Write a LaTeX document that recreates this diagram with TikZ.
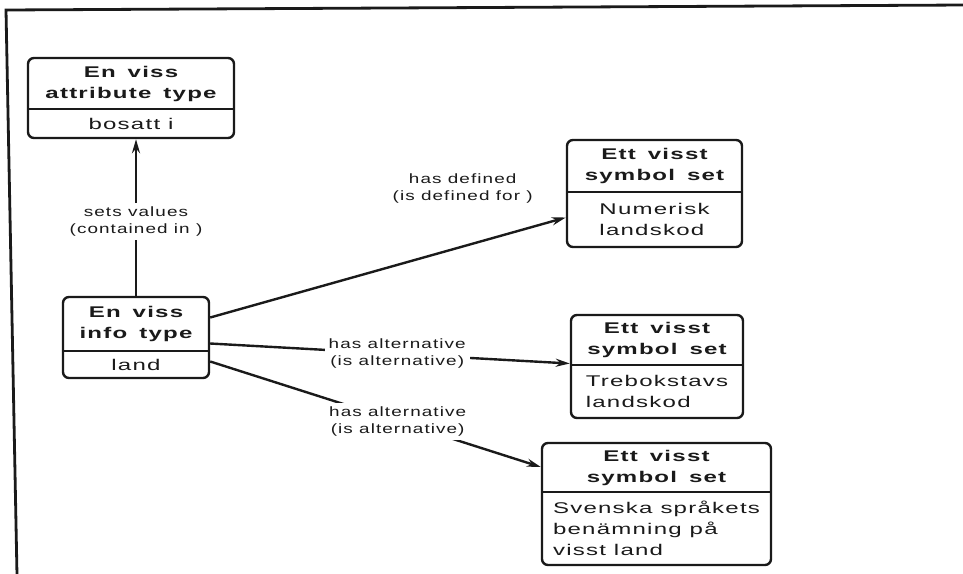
\documentclass[tikz,border=0pt]{standalone}
\usepackage{fontspec}
\setmainfont{Liberation Sans}
\newfontfamily\diagfont[FakeStretch=1.55,LetterSpace=8]{Liberation Sans}
\newfontfamily\labelfont[FakeStretch=1.4,LetterSpace=8]{Liberation Sans}
\usetikzlibrary{arrows.meta,calc}

\definecolor{ink}{HTML}{1A1A1A}
\newcommand\wsp{\hspace{12pt}}

\tikzset{
  boxframe/.style={draw=ink, line width=2.4pt, rounded corners=6pt, inner sep=0pt},
  divider/.style={draw=ink, line width=2.2pt},
  headtext/.style={font=\diagfont\bfseries\fontsize{15.5}{21}\selectfont, align=center, inner sep=0pt, text=ink},
  bodytext/.style={font=\diagfont\fontsize{15.5}{21}\selectfont, align=left, inner sep=0pt, text=ink},
  rel/.style={draw=ink, line width=2.4pt, -{Stealth[length=14pt,width=8pt]}},
  edgelabel/.style={font=\labelfont\fontsize{13.5}{17}\selectfont, align=center, fill=white, inner sep=4pt, text=ink},
}

% class box: name, x1, y1, x2, y2, divider y, heading, body
\newcommand\classbox[8]{%
  \node[boxframe, minimum width={(#4-#2)*1pt}, minimum height={(#5-#3)*1pt}]
    (#1) at ({(#2+#4)/2},{(#3+#5)/2}) {};
  \draw[divider] (#2,#6) -- (#4,#6);
  \node[headtext] (#1-head) at ({(#2+#4)/2},{(#3+#6)/2}) {#7};
  \node[bodytext] (#1-body) at ({(#2+#4)/2},{(#6+#5)/2}) {#8};
}

\begin{document}
\begin{tikzpicture}[x=1pt, y=-1pt]
  \useasboundingbox (0,0) rectangle (963,573);

  % page frame
  \draw[ink, line width=2.8pt] (17,575) -- (6,10) -- (965,5);

  \classbox{attr}{28}{58}{234}{138}{109}{En\wsp viss\\attribute\wsp type}{bosatt i}
  \classbox{info}{63}{297}{209}{378}{351}{En\wsp viss\\info\wsp type}{land}
  \classbox{num}{567}{140}{742}{247}{192}{Ett\wsp visst\\symbol\wsp set}{Numerisk\\landskod}
  \classbox{tre}{571}{315}{743}{418}{365}{Ett\wsp visst\\symbol\wsp set}{Trebokstavs\\landskod}
  \classbox{sve}{542}{443}{771}{565}{492}{Ett\wsp visst\\symbol\wsp set}{Svenska språkets\\benämning på\\visst land}

  % relations
  \draw[rel] (info.north) -- (info.north |- attr.south)
    node[edgelabel, midway, yshift=-4pt] (lbl-sets) {sets values\\(contained in )};
  \draw[rel] ([yshift=20pt]info.east) -- ([yshift=-24pt]num.west)
    node[edgelabel, pos=0.71, above=38pt, fill=none] (lbl-def) {has defined\\(is defined for )};
  \draw[rel] ([yshift=-6pt]info.east) -- ([yshift=3pt]tre.west)
    node[edgelabel, pos=0.52] (lbl-alt1) {has alternative\\(is alternative)};
  \draw[rel] ([yshift=-24pt]info.east) -- ([yshift=37pt]sve.west)
    node[edgelabel, pos=0.567] (lbl-alt2) {has alternative\\(is alternative)};
\end{tikzpicture}
\end{document}
